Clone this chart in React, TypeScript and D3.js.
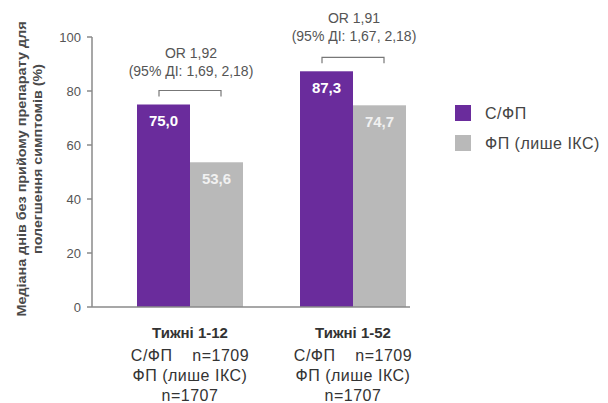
import React from "react";
import * as d3 from "d3";

const periods = ["Тижні 1-12", "Тижні 1-52"];
const seriesNames = ["С/ФП", "ФП (лише ІКС)"];
const sfpValues = [75.0, 87.3];
const fpValues = [53.6, 74.7];
const valueLabels = [["75,0", "53,6"], ["87,3", "74,7"]];
const orLabels = ["OR 1,92", "OR 1,91"];
const ciLabels = ["(95% ДІ: 1,69, 2,18)", "(95% ДІ: 1,67, 2,18)"];
const nLines = [
  ["С/ФП    n=1709", "ФП (лише ІКС)", "n=1707"],
  ["С/ФП    n=1709", "ФП (лише ІКС)", "n=1707"],
];
const yTicks = [0, 20, 40, 60, 80, 100];
const yLabelLines = ["Медіана днів без прийому препарату для", "полегшення симптомів (%)"];

const colors = ["#6a2c9c", "#b9b9b9"];
const font = "Liberation Sans, Arial, Helvetica, sans-serif";

export default function App() {
  const W = 608, H = 403;
  const y = d3.scaleLinear().domain([0, 100]).range([307, 37]);
  const xc = d3.scalePoint<string>().domain(periods).range([190, 353]);
  const barW = 53;
  const x1 = d3.scaleBand<string>().domain(seriesNames).range([-barW, barW]);
  const axisX = 92;
  const axisEnd = 410;
  const series = [sfpValues, fpValues];
  const orY = [53, 18];
  const bracketY = (i: number) => y(Math.max(sfpValues[i], fpValues[i])) - 14;
  const yLabelLen = [295, 190];
  const yLabelCenter = [169, 159];

  return (
    <svg width={W} height={H} style={{ position: "absolute", left: 0, top: 0, background: "#fff" }} fontFamily={font}>
      <rect x={0} y={0} width={W} height={H} fill="#fff" />
      {/* y axis title */}
      {yLabelLines.map((t, i) => (
        <text key={i} transform={`translate(${21 + i * 16},${yLabelCenter[i]}) rotate(-90)`} textAnchor="middle" dy="0.35em"
          fontSize={13.5} fontWeight="bold" fill="#4a4a4a" textLength={yLabelLen[i]} lengthAdjust="spacingAndGlyphs">{t}</text>
      ))}
      {/* y axis */}
      <line x1={axisX} x2={axisX} y1={y(100)} y2={y(0)} stroke="#8a8a8a" strokeWidth={1.5} />
      {yTicks.map((t) => (
        <g key={t}>
          <line x1={axisX - 5} x2={axisX} y1={y(t)} y2={y(t)} stroke="#8a8a8a" strokeWidth={1.5} />
          <text x={81} y={y(t)} dy="0.35em" textAnchor="end" fontSize={13} fill="#555">{t}</text>
        </g>
      ))}
      {/* bars */}
      {periods.map((p, i) => (
        <g key={p}>
          {seriesNames.map((s, j) => {
            const v = series[j][i];
            const bx = (xc(p) as number) + (x1(s) as number);
            return (
              <g key={s}>
                <rect x={bx} y={y(v)} width={x1.bandwidth()} height={y(0) - y(v)} fill={colors[j]} />
                <text x={bx + x1.bandwidth() / 2} y={y(v) + 16} dy="0.35em" textAnchor="middle"
                  fontSize={15} fontWeight="bold" fill={j === 0 ? "#ffffff" : "#f1f1f1"}>{valueLabels[i][j]}</text>
              </g>
            );
          })}
        </g>
      ))}
      {/* x axis */}
      <line x1={axisX} x2={axisEnd} y1={y(0)} y2={y(0)} stroke="#8a8a8a" strokeWidth={1.5} />
      {/* OR annotations */}
      {periods.map((p, i) => {
        const cx = xc(p) as number;
        const by = bracketY(i);
        return (
          <g key={p}>
            <text x={cx + 1} y={orY[i]} dy="0.35em" textAnchor="middle" fontSize={14} fill="#555">{orLabels[i]}</text>
            <text x={cx + 1} y={orY[i] + 18} dy="0.35em" textAnchor="middle" fontSize={14} fill="#555">{ciLabels[i]}</text>
            <path d={`M${cx - 31},${by + 6}V${by}H${cx + 31}V${by + 6}`} fill="none" stroke="#777" strokeWidth={1.2} />
          </g>
        );
      })}
      {/* x labels */}
      {periods.map((p, i) => {
        const cx = xc(p) as number;
        return (
          <g key={p}>
            <text x={cx} y={333} dy="0.35em" textAnchor="middle" fontSize={15} fontWeight="bold" fill="#333">{p}</text>
            {nLines[i].map((t, k) => (
              <text key={k} x={cx} y={355 + k * 20} dy="0.35em" textAnchor="middle" fontSize={16} letterSpacing={0.5} fill="#333"
                style={{ whiteSpace: "pre" }}>{t}</text>
            ))}
          </g>
        );
      })}
      {/* legend */}
      {seriesNames.map((s, j) => (
        <g key={s} transform={`translate(455,${105 + j * 30})`}>
          <rect x={0} y={0} width={16} height={16} fill={colors[j]} />
          <text x={30} y={8} dy="0.35em" fontSize={16} letterSpacing={0.5} fill="#444">{s}</text>
        </g>
      ))}
    </svg>
  );
}
